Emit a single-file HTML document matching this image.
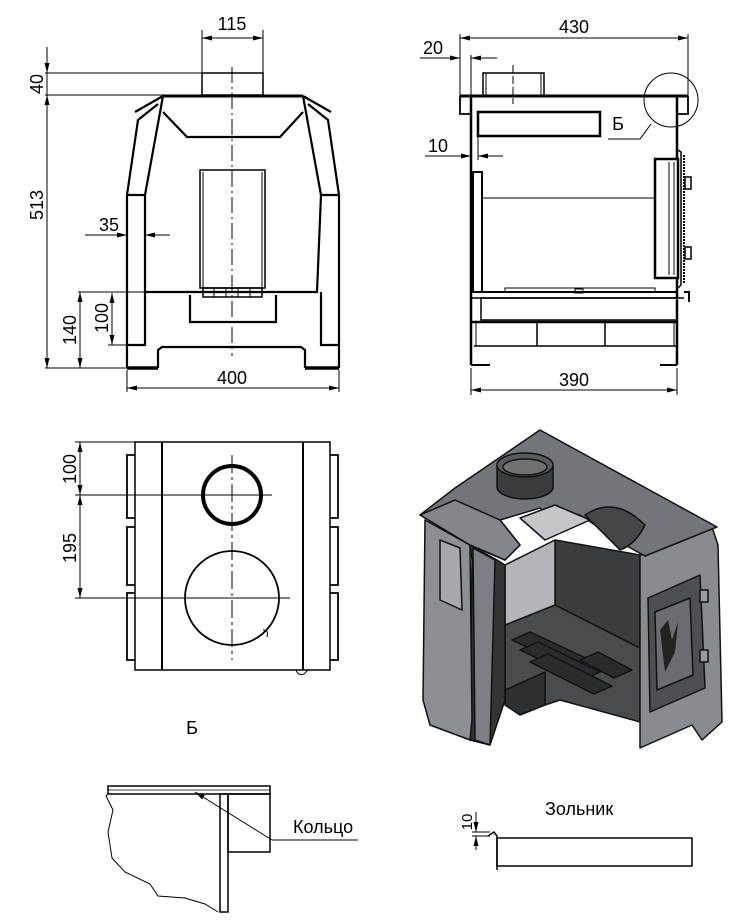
<!DOCTYPE html>
<html><head><meta charset="utf-8"><style>
html,body{margin:0;padding:0;background:#fff}
svg{display:block}
text{font-family:"Liberation Sans",sans-serif;fill:#000}
</style></head><body>
<svg width="744" height="920" viewBox="0 0 744 920" xmlns="http://www.w3.org/2000/svg">
<defs>
<marker id="a" markerWidth="10" markerHeight="6" refX="10" refY="3" orient="auto" markerUnits="userSpaceOnUse"><path d="M0,0.5 L10,3 L0,5.5 Z" fill="#000"/></marker>
<marker id="b" markerWidth="10" markerHeight="6" refX="0" refY="3" orient="auto" markerUnits="userSpaceOnUse"><path d="M10,0.5 L0,3 L10,5.5 Z" fill="#000"/></marker>
</defs>
<g fill="none" stroke="#000" stroke-width="1">
<line x1="202" y1="30" x2="202" y2="73"/><line x1="263" y1="30" x2="263" y2="73"/>
<line x1="202" y1="38" x2="263" y2="38" marker-start="url(#b)" marker-end="url(#a)"/>
<rect x="202" y="73" width="61" height="22" stroke-width="1.5"/>
<line x1="45" y1="73" x2="202" y2="73"/><line x1="45" y1="95" x2="163" y2="95"/>
<line x1="47" y1="47" x2="47" y2="73" marker-end="url(#a)"/>
<line x1="47" y1="95" x2="47" y2="368" marker-start="url(#b)" marker-end="url(#a)"/>
<line x1="47" y1="73" x2="47" y2="95"/>
<line x1="45" y1="368" x2="127" y2="368"/>
<line x1="163" y1="96" x2="303" y2="96" stroke-width="3"/>
<g stroke-width="2.2">
<polyline points="163,96 135,112"/><polyline points="303,96 331,112"/>
<polyline points="158,104 138,120 127,195 127,368"/>
<polyline points="308,104 328,120 339,195 339,368"/>
<polyline points="163,96 145,195 145,292 317,292 321,195 303,96"/>
<polyline points="163,112 187,137 280,137 303,112"/>
<polyline points="145,292 145,345 127,345"/><polyline points="321,292 321,345 339,345"/>
<polyline points="127,195 145,195"/><polyline points="321,195 339,195"/>
<polyline points="158,368 158,350 162,347 301,347 305,350 305,368"/>
<polyline points="190,295 190,322 276,322 276,295"/>
</g>
<line x1="127" y1="368" x2="158" y2="368" stroke-width="3.5"/><line x1="305" y1="368" x2="339" y2="368" stroke-width="3.5"/>
<rect x="200" y="170" width="65" height="118" stroke-width="1.5"/>
<line x1="203" y1="172" x2="203" y2="288"/><line x1="262" y1="172" x2="262" y2="288"/>
<rect x="203" y="288" width="59" height="9" stroke-width="1.5"/>
<line x1="214" y1="288" x2="214" y2="297"/><line x1="226" y1="288" x2="226" y2="297"/><line x1="238" y1="288" x2="238" y2="297"/><line x1="250" y1="288" x2="250" y2="297"/>
<line x1="232" y1="67" x2="232" y2="356" stroke-dasharray="16,4,2,4"/>
<line x1="85" y1="235" x2="127" y2="235" marker-end="url(#a)"/>
<line x1="145" y1="235" x2="170" y2="235" marker-start="url(#b)"/>
<line x1="78" y1="292" x2="145" y2="292"/>
<line x1="80" y1="292" x2="80" y2="368" marker-start="url(#b)" marker-end="url(#a)"/>
<line x1="108" y1="345" x2="127" y2="345"/>
<line x1="112" y1="293" x2="112" y2="345" marker-start="url(#b)" marker-end="url(#a)"/>
<line x1="127" y1="370" x2="127" y2="392"/><line x1="339" y1="370" x2="339" y2="392"/>
<line x1="127" y1="388" x2="339" y2="388" marker-start="url(#b)" marker-end="url(#a)"/>

<line x1="460" y1="34" x2="460" y2="96"/><line x1="688" y1="34" x2="688" y2="100"/>
<line x1="460" y1="38" x2="688" y2="38" marker-start="url(#b)" marker-end="url(#a)"/>
<line x1="471" y1="55" x2="471" y2="96"/>
<line x1="420" y1="58" x2="460" y2="58" marker-end="url(#a)"/>
<line x1="471" y1="58" x2="497" y2="58" marker-start="url(#b)"/>
<rect x="483" y="73" width="61" height="23" stroke-width="1.5"/>
<line x1="486" y1="73" x2="486" y2="96"/><line x1="541" y1="73" x2="541" y2="96"/>
<line x1="513" y1="65" x2="513" y2="104" stroke-dasharray="8,3"/>
<line x1="460" y1="96" x2="688" y2="96" stroke-width="3"/>
<polyline points="460,96 460,114 471,114" stroke-width="1.8"/>
<polyline points="688,96 688,114 677,114" stroke-width="1.8"/>
<line x1="471" y1="96" x2="471" y2="365" stroke-width="2.5"/>
<line x1="677" y1="96" x2="677" y2="160" stroke-width="2.5"/>
<line x1="677" y1="278" x2="677" y2="298" stroke-width="2.5"/>
<rect x="478" y="112" width="122" height="24" stroke-width="2.5"/>
<line x1="478" y1="136" x2="478" y2="160"/>
<line x1="425" y1="156" x2="471" y2="156" marker-end="url(#a)"/>
<line x1="478" y1="156" x2="503" y2="156" marker-start="url(#b)"/>
<circle cx="671" cy="100" r="27"/>
<polyline points="608,139 640,139 651,124"/>
<rect x="473" y="172" width="9" height="120" stroke-width="2"/>
<line x1="482" y1="198" x2="655" y2="198"/>
<rect x="655" y="159" width="23" height="119" stroke-width="2.5"/>
<line x1="669" y1="162" x2="669" y2="275"/><line x1="674" y1="162" x2="674" y2="275"/>
<polyline points="678,150 681,152 681,285 678,288" stroke-width="1.5"/>
<line x1="684" y1="155" x2="684" y2="283" stroke-width="2" stroke-dasharray="2,1"/>
<rect x="685" y="177" width="6" height="12" stroke-width="1.5"/><rect x="685" y="247" width="6" height="12" stroke-width="1.5"/>
<line x1="478" y1="292" x2="677" y2="292" stroke-width="2"/>
<polyline points="505,292 505,288 655,288 655,292"/>
<rect x="575" y="289" width="8" height="4"/>
<line x1="471" y1="298" x2="684" y2="298" stroke-width="1.5"/>
<polyline points="684,292 689,292 689,302" stroke-width="2"/>
<rect x="481" y="298" width="196" height="22" stroke-width="1.5"/>
<line x1="471" y1="322" x2="677" y2="322" stroke-width="2.5"/>
<line x1="474" y1="346" x2="677" y2="346" stroke-width="1.5"/>
<line x1="476" y1="322" x2="476" y2="346"/><line x1="537" y1="322" x2="537" y2="346" stroke-width="1.5"/><line x1="605" y1="322" x2="605" y2="346" stroke-width="1.5"/><line x1="674" y1="322" x2="674" y2="346"/>
<line x1="677" y1="300" x2="677" y2="365" stroke-width="2.5"/>
<polyline points="471,365 490,365" stroke-width="2"/><polyline points="660,365 677,365" stroke-width="2"/>
<line x1="471" y1="368" x2="471" y2="395"/><line x1="677" y1="368" x2="677" y2="395"/>
<line x1="471" y1="390" x2="677" y2="390" marker-start="url(#b)" marker-end="url(#a)"/>

<rect x="135" y="442" width="195" height="228" stroke-width="1.5"/>
<line x1="162" y1="442" x2="162" y2="670" stroke-width="2"/><line x1="303" y1="442" x2="303" y2="670" stroke-width="2"/>
<g stroke-width="1.8">
<path d="M135,455 H127 V518 H135 M135,527 H127 V585 H135 M135,593 H127 V660 H135"/>
<path d="M330,455 H338 V518 H330 M330,527 H338 V585 H330 M330,593 H338 V660 H330"/>
</g>
<path d="M296,670 q2,6 8,4 l4,-4"/>
<circle cx="232" cy="495" r="29" stroke-width="4"/>
<circle cx="232" cy="598" r="47" stroke-width="1.8"/>
<path d="M263,630 q6,0 4,7" />
<line x1="232" y1="455" x2="232" y2="660" stroke-dasharray="18,4,3,4"/>
<line x1="75" y1="442" x2="135" y2="442"/>
<line x1="75" y1="495" x2="272" y2="495"/>
<line x1="75" y1="598" x2="290" y2="598"/>
<line x1="80" y1="442" x2="80" y2="495" marker-start="url(#b)" marker-end="url(#a)"/>
<line x1="80" y1="495" x2="80" y2="598" marker-start="url(#b)" marker-end="url(#a)"/>

<rect x="108" y="786" width="162" height="8" stroke-width="1.5"/>
<line x1="108" y1="790" x2="270" y2="790" stroke-width="0.8"/>
<path d="M108,794 L106,796 L113,810 L108,832 L112,858 L125,872 L150,884 L158,896 L185,898 L205,904 L218,912"/>
<rect x="220" y="794" width="8" height="118" stroke-width="1.5"/>
<rect x="228" y="794" width="42" height="58" stroke-width="1.5"/>
<line x1="195" y1="792" x2="272" y2="840" marker-start="url(#b)"/>
<line x1="272" y1="840" x2="358" y2="840"/>
<rect x="497" y="838" width="195" height="28" stroke-width="1.5"/>
<polyline points="488,836 494,832 497,836 497,870" stroke-width="1.5"/>
<line x1="476" y1="812" x2="476" y2="832" marker-end="url(#a)"/>
<line x1="476" y1="836" x2="476" y2="850" marker-start="url(#b)"/>
<line x1="472" y1="832" x2="490" y2="832"/><line x1="472" y1="836" x2="490" y2="836"/>
</g>

<g stroke="#111" stroke-width="1.5" stroke-linejoin="round">
<polygon points="555,540 640,555 640,720 555,690" fill="#3b3c3e"/>
<polygon points="505,565 555,540 555,700 505,640" fill="#b4b4ba"/>
<polygon points="505,625 555,605 640,648 640,722 560,700 545,705 505,690" fill="#4a4b4d"/>
<polygon points="505,690 545,672 545,705 520,715 505,705" fill="#2e2f31"/>
<g fill="#2a2b2d">
<polygon points="512,640 530,632 590,660 572,668"/>
<polygon points="520,650 538,642 600,672 582,680"/>
<polygon points="530,662 548,654 612,686 594,694"/>
<polygon points="580,660 598,652 632,670 614,678"/>
</g>
<polygon points="470,545 497,560 505,565 505,700 490,745 470,740 472,560" fill="#333436"/>
<polygon points="425,520 470,545 472,720 470,740 430,725 423,700" fill="#8e8e95"/>
<polygon points="440,540 460,548 462,610 440,600" fill="#a8a8ae"/>
<polygon points="473,548 495,560 490,745 475,740" fill="#7e7e85"/>
<polygon points="640,555 712,527 718,545 722,722 702,740 692,725 640,748" fill="#8a8a91"/>
<polygon points="648,598 700,575 705,688 650,712" fill="#4e4f52"/>
<polygon points="655,612 690,598 693,675 657,690" fill="#6c6c72"/>
<path d="M660,630 l8,-10 l4,20 l6,-18 l-3,30 l-10,20 z" fill="#222" stroke="none"/>
<rect x="700" y="590" width="8" height="12" fill="#9a9aa0"/><rect x="700" y="650" width="8" height="12" fill="#9a9aa0"/>
<polygon points="420,515 455,488 540,430 717,527 645,556 625,545 580,515 555,522 540,508 500,520 520,545 505,560 470,545" fill="#74747b"/>
<polygon points="420,515 470,545 505,560 520,545 500,520 455,500" fill="#85858c"/>
<polygon points="520,518 555,505 590,520 545,540" fill="#c5c5ca"/>
<path d="M585,515 q30,-20 60,10 q-10,20 -25,25 z" fill="#454648"/>
<path d="M497,465 v22 a28,12 0 0 0 56,0 v-22" fill="#3a3b3d"/>
<ellipse cx="525" cy="465" rx="28" ry="12" fill="#5a5b5e"/>
<ellipse cx="525" cy="467" rx="22" ry="8" fill="#707075"/>
</g>

<g font-size="18">
<text x="232" y="30" text-anchor="middle">115</text>
<text x="232" y="384" text-anchor="middle">400</text>
<text x="109" y="231" text-anchor="middle">35</text>
<text transform="translate(43,84) rotate(-90)" text-anchor="middle">40</text>
<text transform="translate(43,205) rotate(-90)" text-anchor="middle">513</text>
<text transform="translate(76,330) rotate(-90)" text-anchor="middle">140</text>
<text transform="translate(108,318) rotate(-90)" text-anchor="middle">100</text>
<text x="574" y="33" text-anchor="middle">430</text>
<text x="433" y="54" text-anchor="middle">20</text>
<text x="438" y="152" text-anchor="middle">10</text>
<text x="618" y="130" text-anchor="middle">Б</text>
<text x="574" y="386" text-anchor="middle">390</text>
<text transform="translate(76,469) rotate(-90)" text-anchor="middle">100</text>
<text transform="translate(76,548) rotate(-90)" text-anchor="middle">195</text>
<text x="192" y="734" text-anchor="middle">Б</text>
<text x="293" y="833">Кольцо</text>
<text x="545" y="815">Зольник</text>
<text transform="translate(472,822) rotate(-90)" text-anchor="middle" font-size="15">10</text>
</g>
</svg>
</body></html>
